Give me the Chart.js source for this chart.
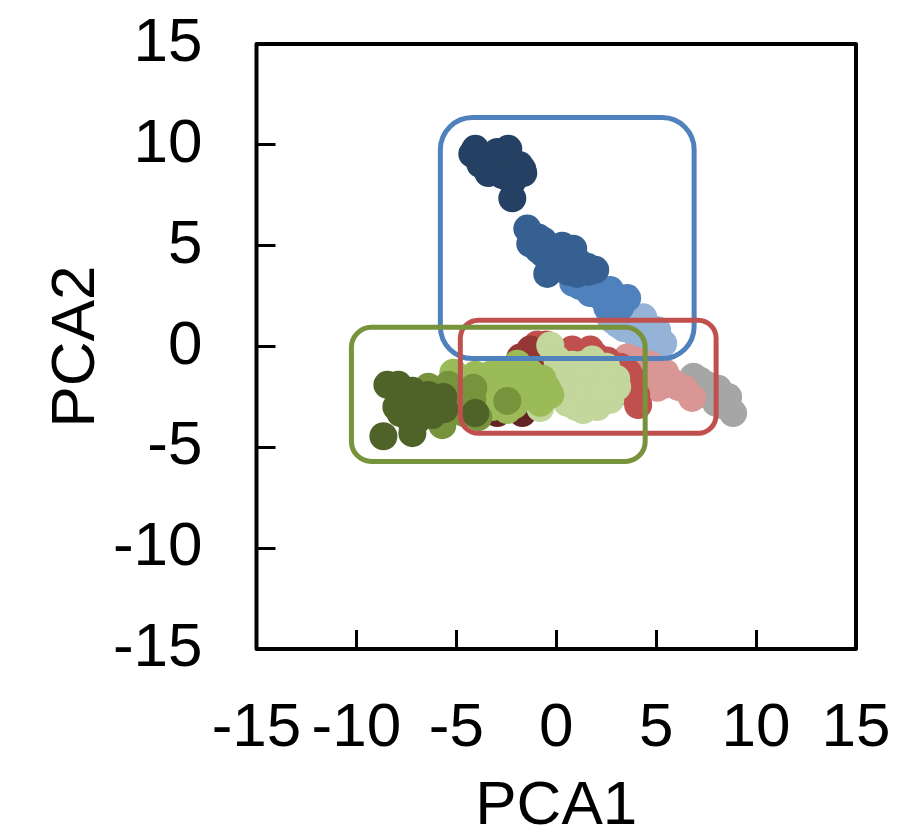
<!DOCTYPE html>
<html>
<head>
<meta charset="utf-8">
<title>PCA</title>
<script src="https://cdn.jsdelivr.net/npm/chart.js@4/dist/chart.umd.min.js"></script>
<style>
    body { margin: 0; background: #fff; }
    canvas { display: block; }
</style>
</head>
<body>
<canvas id="pcaChart" width="897" height="837"></canvas>
<script>
    const tickValues = [-15, -10, -5, 0, 5, 10, 15];

    // [PCA1, PCA2]
    const darkOlive = [[-8.45,-1.9],[-7.9,-1.9],[-8.65,-4.45],[-7.2,-4.3],[-7.6,-2.4],[-8.0,-3.0],[-7.0,-2.6],[-6.4,-2.4],[-5.65,-2.5],[-5.6,-3.1],[-6.4,-3.2],[-7.3,-3.4],[-7.8,-3.3],[-6.9,-3.6],[-7.2,-3.9],[-6.2,-3.4],[-7.2,-2.2],[-4.05,-3.3]];
    const olive = [[-6.4,-2.0],[-5.9,-2.2],[-5.4,-1.9],[-5.7,-3.9],[-5.5,-3.3],[-4.15,-2.05],[-4.2,-2.6],[-4.6,-3.3],[-4.9,-2.8],[-3.9,-3.5],[-2.45,-2.7]];
    const midGreen = [[-5.15,-1.3],[-4.7,-1.6],[-4.05,-1.4],[-3.3,-1.4],[-2.9,-1.3],[-2.2,-1.1],[-1.95,-0.85],[-2.6,-1.7],[-1.6,-1.6],[-1.3,-1.3],[-0.95,-1.75],[-0.7,-1.6],[-0.35,-2.3],[-0.3,-2.4],[-0.8,-2.8],[-1.7,-2.4],[-1.3,-2.5],[-2.45,-3.15],[-2.1,-2.9],[-3.0,-2.6],[-3.6,-1.9],[-3.4,-2.4],[-3.2,-3.0],[-4.4,-2.2],[-0.5,-2.0]];
    const paleGreen = [[-0.3,0.05],[0.05,-0.65],[1.8,-0.65],[0.8,-0.9],[1.3,-0.9],[1.0,-1.0],[2.5,-1.0],[0.05,-1.2],[3.0,-1.6],[3.05,-2.0],[2.7,-2.65],[1.35,-3.15],[1.0,-3.0],[0.55,-2.8],[-0.8,-3.05],[2.05,-3.0],[2.0,-2.6],[0.5,-1.4],[1.6,-1.4],[2.5,-1.4],[0.5,-2.1],[0.0,-2.0],[1.6,-2.2],[2.4,-2.2]];
    const darkRed = [[-1.3,-0.15],[-1.8,-0.55],[-1.0,-0.4],[-1.0,-0.8],[-0.9,-1.4]];
    const deepRed = [[-2.95,-3.3],[-2.4,-3.0],[-1.7,-3.3]];
    const midRed = [[-0.95,0.1],[-0.5,0.1],[-0.4,-0.2],[0.2,-0.6],[0.8,-0.15],[1.7,-0.15],[2.0,-0.5],[2.55,-0.7],[3.2,-1.0],[3.0,-1.3],[3.3,-1.7],[3.85,-1.65],[3.7,-2.3],[4.0,-2.4],[4.1,-2.9],[3.6,-1.3]];
    const lightRed = [[3.55,-0.55],[4.0,-0.7],[4.7,-0.9],[4.2,-1.0],[5.0,-1.2],[4.8,-1.4],[5.45,-1.3],[4.8,-1.9],[5.05,-2.05],[5.4,-1.9],[5.85,-1.8],[6.1,-2.0],[6.4,-2.1],[6.8,-2.55]];
    const navy = [[-4.05,9.8],[-4.2,9.55],[-3.5,9.4],[-3.0,9.2],[-2.95,9.65],[-2.5,9.2],[-2.4,9.8],[-3.8,9.05],[-3.5,8.9],[-3.4,8.6],[-2.95,8.8],[-2.7,8.5],[-2.45,8.4],[-2.2,8.2],[-2.2,8.7],[-2.1,9.0],[-1.85,9.0],[-1.7,8.8],[-1.65,8.6],[-2.2,7.35]];
    const steelBlue = [[-1.45,5.85],[-1.3,5.1],[-0.9,5.4],[-0.9,4.8],[-0.65,5.25],[-0.65,4.6],[-0.3,4.6],[0.3,5.0],[0.35,4.5],[0.1,4.4],[0.7,4.5],[0.85,4.85],[1.1,4.2],[-0.45,3.6],[0.35,3.95],[0.6,3.7],[1.05,3.6],[1.55,3.95],[1.6,3.7],[1.95,3.8]];
    const midBlue = [[0.85,3.15],[1.2,3.0],[1.7,2.65],[2.2,2.5],[2.7,2.8],[2.9,2.4],[3.0,2.0],[3.55,2.4],[2.55,1.95],[3.2,1.95]];
    const lightBlue = [[2.7,1.45],[3.1,1.1],[2.85,1.3],[3.6,1.4],[3.4,0.9],[4.35,1.45],[3.8,1.0],[4.0,0.6],[4.6,1.0],[5.05,0.8],[4.9,0.55],[4.7,0.3],[5.35,0.15]];
    const gray = [[6.87,-1.5],[7.2,-1.7],[7.5,-1.9],[8.1,-2.1],[7.6,-2.4],[8.0,-2.8],[8.3,-2.9],[8.6,-2.5],[8.85,-3.3]];

    // first series is painted on top
    const seriesList = [darkOlive, olive, midGreen, paleGreen, darkRed, deepRed, midRed, lightRed, navy, steelBlue, midBlue, lightBlue, gray];
    const seriesColors = ["#4f6228", "#77933c", "#9bbb59", "#c3d69b", "#953735", "#632523", "#c0504d", "#d99694", "#244062", "#366092", "#4f81bd", "#95b3d7", "#a6a6a6"];

    // x0, x1, y0, y1 in data units, painted in this order
    const boxBlue = [-5.8, 6.9, 11.35, -0.6];
    const boxRed = [-4.8, 8.0, 1.3, -4.3];
    const boxGreen = [-10.25, 4.45, 0.95, -5.7];
    const boxList = [boxBlue, boxRed, boxGreen];
    const boxColors = ["#4f81bd", "#c0504d", "#77933c"];
    const boxRadius = [32, 18, 20];

    const boxesAndFrame = {
        id: "boxesAndFrame",
        afterDatasetsDraw(chart) {
            const { ctx, chartArea, scales } = chart;
            ctx.save();
            boxList.forEach((b, i) => {
                const x0 = scales.x.getPixelForValue(b[0]);
                const x1 = scales.x.getPixelForValue(b[1]);
                const y0 = scales.y.getPixelForValue(b[2]);
                const y1 = scales.y.getPixelForValue(b[3]);
                ctx.beginPath();
                ctx.roundRect(x0, y0, x1 - x0, y1 - y0, boxRadius[i]);
                ctx.lineWidth = 5;
                ctx.strokeStyle = boxColors[i];
                ctx.stroke();
            });
            ctx.lineWidth = 4;
            ctx.strokeStyle = "#000";
            ctx.lineJoin = "round";
            ctx.strokeRect(chartArea.left, chartArea.top, chartArea.right - chartArea.left, chartArea.bottom - chartArea.top);
            ctx.restore();
        },
    };

    const axisFont = { family: "'Liberation Sans', Arial, sans-serif", size: 62 };

    function axisOptions(title, padding, titlePadding, fitFn) {
        return {
            type: "linear",
            min: -15,
            max: 15,
            afterBuildTicks: (scale) => { scale.ticks = tickValues.map((v) => ({ value: v })); },
            afterFit: (s) => {
                fitFn(s);
                // labels may hang past the plot edges
                s.paddingTop = s.paddingBottom = s.paddingLeft = s.paddingRight = 0;
            },
            border: { display: false },
            grid: { drawOnChartArea: false, tickLength: -19, tickWidth: 3, tickColor: "#000" },
            ticks: {
                autoSkip: false,
                maxRotation: 0,
                minRotation: 0,
                padding: padding,
                color: "#000",
                font: axisFont,
                callback: (v) => String(v),
            },
            title: { display: true, text: title, color: "#000", font: axisFont, padding: titlePadding },
        };
    }

    new Chart(document.getElementById("pcaChart").getContext("2d"), {
        type: "scatter",
        data: {
            datasets: seriesList.map((pts, i) => ({
                data: pts.map((p) => ({ x: p[0], y: p[1] })),
                backgroundColor: seriesColors[i],
                pointRadius: 14,
                borderWidth: 0,
            })),
        },
        options: {
            responsive: false,
            animation: false,
            events: [],
            layout: { padding: { top: 44, right: 41 } },
            scales: {
                x: axisOptions("PCA1", 62, { top: 0, bottom: -7 }, (s) => { s.height = 188; }),
                y: axisOptions("PCA2", 73, { top: 40, bottom: 0 }, (s) => { s.width = 256.5; }),
            },
            plugins: { legend: { display: false }, tooltip: { enabled: false } },
        },
        plugins: [boxesAndFrame],
    });
</script>
</body>
</html>
